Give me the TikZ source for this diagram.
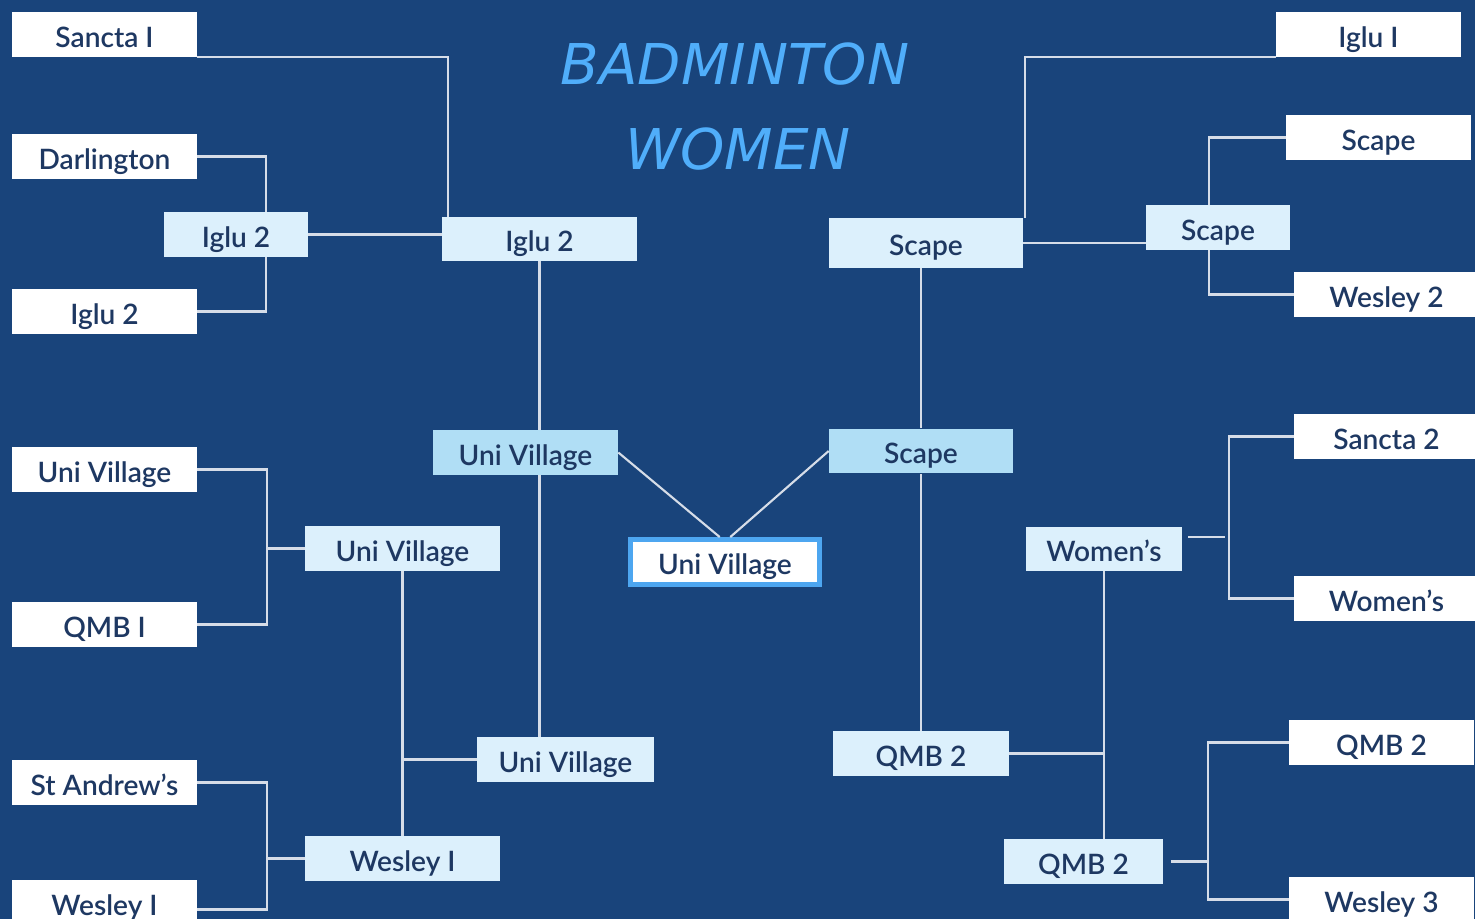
\documentclass[tikz,border=0pt]{standalone}
\usepackage{fontspec}
\setmainfont{Lato}[UprightFont={* Semibold}]
\newfontfamily\titlefont{DejaVu Sans}
\usepackage{tikz}
\usetikzlibrary{positioning}

\definecolor{bracketbg}{RGB}{25,68,123}
\definecolor{teamtext}{RGB}{30,56,98}
\definecolor{heatfill}{RGB}{220,240,252}
\definecolor{semifill}{RGB}{176,222,245}
\definecolor{champline}{RGB}{77,166,240}
\definecolor{linkcol}{RGB}{214,221,232}
\definecolor{titlecol}{RGB}{80,174,250}

\tikzset{
  box/.style={inner sep=0pt, text=teamtext, font=\fontsize{16}{18}\selectfont,
    text height=15pt, text depth=0.7pt, minimum height=0.9cm},
  team/.style={box, fill=white, minimum width=3.7cm},
  heat/.style={box, fill=heatfill},
  semi/.style={box, fill=semifill},
  champ/.style={box, fill=white, draw=champline, line width=2.8pt},
  link/.style={draw=linkcol, line width=1.2pt},
  headline/.style={text=titlecol, font=\titlefont\itshape\fontsize{32}{36}\selectfont, anchor=base}
}

\begin{document}
\begin{tikzpicture}[x=0.02cm,y=-0.02cm]
  \fill[bracketbg] (0,0) rectangle (1475,919);
  \useasboundingbox (0,0) rectangle (1475,919);
  \clip (0,0) rectangle (1475,919);

  \node[headline] (title) at (735,85) {BADMINTON};
  \node[headline] (subtitle) at (738,170) {WOMEN};

  % left half
  \node[team] (sa1) at (104.5,34.5) {Sancta I};
  \node[team] (dar) at (104.5,156.5) {Darlington};
  \node[team] (ig2a) at (104.5,311.5) {Iglu 2};
  \node[team] (uva) at (104.5,469.5) {Uni Village};
  \node[team] (qmb1) at (104.5,624.5) {QMB I};
  \node[team] (sta) at (104.5,782.5) {St Andrew’s};
  \node[team] (wes1a) at (104.5,902.5) {Wesley I};

  \node[heat, minimum width=2.88cm] (ig2b) at (236,234.5) {Iglu 2};
  \node[heat, minimum width=3.9cm] (uvb) at (402.5,548.5) {Uni Village};
  \node[heat, minimum width=3.9cm] (wes1b) at (402.5,858.5) {Wesley I};
  \node[heat, minimum width=3.9cm, minimum height=0.88cm] (ig2c) at (539.5,239) {Iglu 2};
  \node[heat, minimum width=3.54cm] (uvc) at (565.5,759.5) {Uni Village};
  \node[semi, minimum width=3.7cm] (uvd) at (525.5,452.5) {Uni Village};

  % final
  \node[champ, minimum width=3.78cm] (uve) at (725,562) {Uni Village};

  % right half
  \node[semi, minimum width=3.68cm] (scd) at (921,451) {Scape};
  \node[heat, minimum width=3.88cm, minimum height=1cm] (scc) at (926,243) {Scape};
  \node[heat, minimum width=3.52cm] (qmb2c) at (921,753.5) {QMB 2};
  \node[heat, minimum width=2.88cm] (scb) at (1218,227.5) {Scape};
  \node[heat, minimum width=3.12cm, minimum height=0.88cm] (wob) at (1104,549) {Women’s};
  \node[heat, minimum width=3.18cm] (qmb2b) at (1083.5,861.5) {QMB 2};

  \node[team] (ig1) at (1368.5,34.5) {Iglu I};
  \node[team] (sca) at (1378.5,137.5) {Scape};
  \node[team] (wes2) at (1386.5,294.5) {Wesley 2};
  \node[team] (sa2) at (1386.5,436.5) {Sancta 2};
  \node[team] (woa) at (1386.5,598.5) {Women’s};
  \node[team] (qmb2a) at (1381.5,742.5) {QMB 2};
  \node[team] (wes3) at (1381.5,899.5) {Wesley 3};

  \coordinate (jA) at (266,0);
  \coordinate (jB) at (267,0);
  \coordinate (jC) at (1209,0);
  \coordinate (jD) at (1229,0);
  \coordinate (jE) at (1208,0);

  \draw[link] (sa1.south east) -| ([xshift=3.4pt]ig2c.north west);
  \draw[link] (dar.east) -| (jA |- ig2b.north);
  \draw[link] (ig2a.east) -| (jA |- ig2b.south);
  \draw[link] (ig2b.east) -- (ig2b.east -| ig2c.west);
  \draw[link] (ig2c.south) -- (ig2c.south |- uvd.north);
  \draw[link] (uvd.south -| ig2c.south) -- (uvc.north -| ig2c.south);
  \draw[link] (uva.east) -| (jB |- qmb1.east) -- (qmb1.east);
  \draw[link] (jB |- uvb.west) -- (uvb.west);
  \draw[link] (sta.east) -| ([yshift=-4pt]jB |- wes1a.east) -- ([yshift=-4pt]wes1a.east);
  \draw[link] (jB |- wes1b.west) -- (wes1b.west);
  \draw[link] (uvb.south) -- (wes1b.north);
  \draw[link] (uvc.west -| uvb.south) -- (uvc.west);

  \draw[link] (uvd.east) -- ([xshift=-3pt]uve.north);
  \draw[link] (scd.west) -- ([xshift=3pt]uve.north);

  \draw[link] (scd.north) -- (scd.north |- scc.south);
  \draw[link] (scd.south) -- (qmb2c.north);
  \draw[link] (ig1.south west) -| ([xshift=1pt]scc.north east);
  \draw[link] (scc.east) -- (scc.east -| scb.west);
  \draw[link] (sca.west) -| (jC |- scb.north);
  \draw[link] (wes2.west) -| (jC |- scb.south);
  \draw[link] (sa2.west) -| (jD |- woa.west) -- (woa.west);
  \draw[link] ([xshift=3.4pt,yshift=6.8pt]wob.east) -- ([xshift=-2.5pt,yshift=6.8pt]jD |- wob.east);
  \draw[link] (wob.south) -- (wob.south |- qmb2b.north);
  \draw[link] (qmb2c.east) -- (qmb2c.east -| wob.south);
  \draw[link] (qmb2a.west) -| (jE |- wes3.west) -- (wes3.west);
  \draw[link] ([xshift=4.5pt]qmb2b.east) -- (jE |- qmb2b.east);
\end{tikzpicture}
\end{document}
